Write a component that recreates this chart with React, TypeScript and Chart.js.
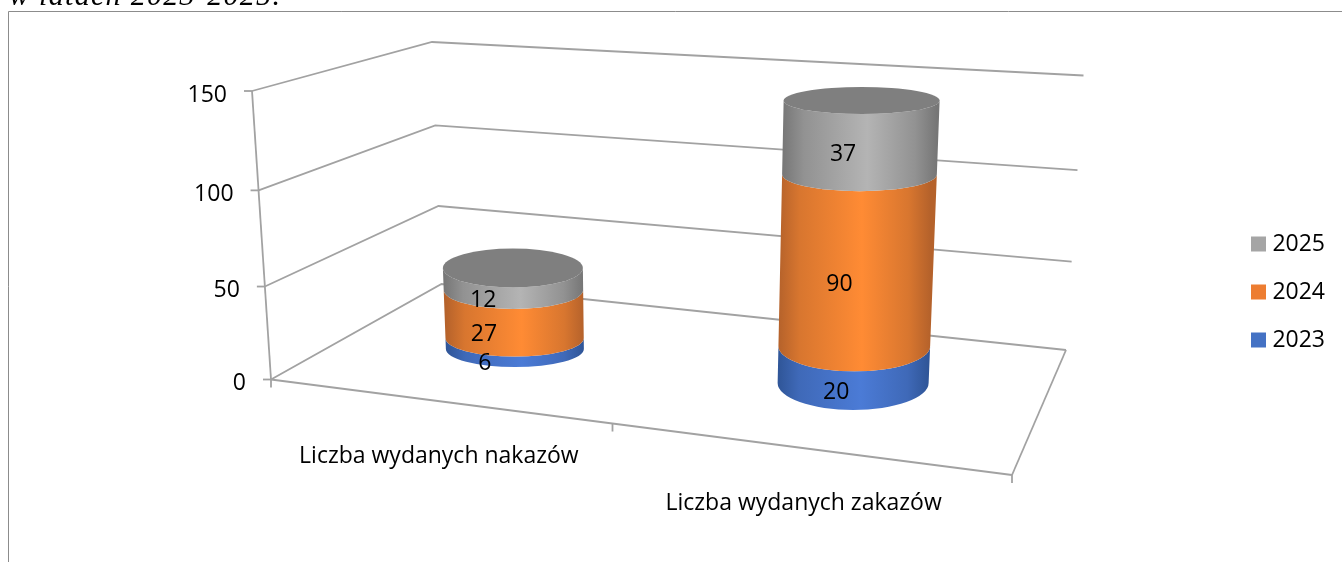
import React, { useEffect, useRef } from "react";
import { Chart, registerables } from "chart.js";

Chart.register(...registerables);

const categories = ["Liczba wydanych nakazów", "Liczba wydanych zakazów"];
const seriesNames = ["2023", "2024", "2025"];
const values2023 = [6, 20];
const values2024 = [27, 90];
const values2025 = [12, 37];
const yTicksMax = 150;
const yTicksStep = 50;
const pageTitle = "w latach 2023-2025.";

const FONT = '"Open Sans", sans-serif';
const FONT_SIZE = 23;
const lerp = (a: number, b: number, t: number) => a + (b - a) * t;
// foreshortening along the vertical axis
const warp = (t: number) => t * (0.95 + 0.05 * t);

const SHADES = [
  { legend: "#4472C4", edge: "#2F5597", mid: "#3F69B8", light: "#4B7BD6" },
  { legend: "#ED7D31", edge: "#B5622B", mid: "#D8762F", light: "#FF8B34" },
  { legend: "#A5A5A5", edge: "#767676", mid: "#929292", light: "#B4B4B4" },
];
const CAP = "#7F7F7F";
const GRID = "#A2A2A2";

// perspective of each cylinder relative to its bar element
const CYL = [
  { dxBase: 1, dxTop: -1, rxBase: 69, rxTop: 70, yOff: -30.5, k: 0.97, ryBase: 18, ryTop: 19.5, labelDx: -30, catDx: -75, catY: 456 },
  { dxBase: -3.5, dxTop: 5, rxBase: 75.5, rxTop: 78, yOff: 3.5, k: 1, ryBase: 27, ryTop: 13.5, labelDx: -17.5, catDx: -53, catY: 503 },
];

// perspective of the box walls: corners at the axis minimum and maximum
const WALL = {
  front: { x0: 271, xMax: 252 },
  backLeft: { x0: 441.5, y0: 284, xMax: 432, yMax: 42 },
  backRight: { x0: 1066, y0: 350, xMax: 1083.5, yMax: 75.5 },
  frontRight: { x: 1012, y: 475 },
};

const perspective = {
  id: "perspective",
  afterLayout(chart: any) {
    const { x, y } = chart.scales;
    y.top = 91;
    y.bottom = 379.5;
    y.height = y.bottom - y.top;
    y.configure();
    x.left = 342.5;
    x.right = 1028;
    x.width = x.right - x.left;
    x.configure();
    chart.legend.left = 1251 - chart.options.plugins.legend.labels.padding;
  },
  beforeDraw(chart: any) {
    const ctx = chart.ctx;
    ctx.save();
    ctx.fillStyle = "#fff";
    ctx.fillRect(0, 0, chart.width, chart.height);

    ctx.fillStyle = "#000";
    ctx.font = "italic 30px 'Liberation Serif', serif";
    ctx.letterSpacing = "1.3px";
    ctx.textAlign = "left";
    ctx.textBaseline = "alphabetic";
    ctx.fillText(pageTitle, 9, 5);
    ctx.letterSpacing = "0px";

    ctx.strokeStyle = "#8C8C8C";
    ctx.lineWidth = 1;
    ctx.beginPath();
    ctx.moveTo(8.5, chart.height);
    ctx.lineTo(8.5, 11.5);
    ctx.lineTo(chart.width, 11.5);
    ctx.stroke();

    const ys = chart.scales.y;
    const p0 = ys.getPixelForValue(0);
    const pMax = ys.getPixelForValue(yTicksMax);
    ctx.strokeStyle = GRID;
    ctx.lineWidth = 1.8;
    const line = (a: number, b: number, c: number, d: number) => {
      ctx.beginPath();
      ctx.moveTo(a, b);
      ctx.lineTo(c, d);
      ctx.stroke();
    };
    ctx.font = `${FONT_SIZE}px ${FONT}`;
    ctx.textAlign = "right";
    ctx.textBaseline = "middle";
    for (const tick of ys.ticks) {
      const p = ys.getPixelForValue(tick.value);
      const t = warp((p0 - p) / (p0 - pMax));
      const py = lerp(p0, pMax, t);
      const fx = lerp(WALL.front.x0, WALL.front.xMax, t);
      const blx = lerp(WALL.backLeft.x0, WALL.backLeft.xMax, t);
      const bly = lerp(WALL.backLeft.y0, WALL.backLeft.yMax, t);
      const brx = lerp(WALL.backRight.x0, WALL.backRight.xMax, t);
      const bry = lerp(WALL.backRight.y0, WALL.backRight.yMax, t);
      ctx.beginPath();
      ctx.moveTo(fx, py);
      ctx.lineTo(blx, bly);
      ctx.lineTo(brx, bry);
      ctx.stroke();
      line(fx - 8, py, fx, py);
      ctx.fillStyle = "#000";
      ctx.fillText(String(tick.label), fx - 25, py + 4);
    }
    line(WALL.front.x0, p0, WALL.front.xMax, pMax);
    const fr = WALL.frontRight;
    const backR = { x: WALL.backRight.x0, y: WALL.backRight.y0 };
    line(WALL.front.x0, p0, fr.x, fr.y);
    line(fr.x, fr.y, backR.x, backR.y);
    line(WALL.front.x0, p0, WALL.front.x0, p0 + 8);
    line(fr.x, fr.y, fr.x, fr.y + 8);
    const mid = (WALL.front.x0 + fr.x) / 2 - 29;
    const midY = lerp(p0, fr.y, (mid - WALL.front.x0) / (fr.x - WALL.front.x0));
    line(mid, midY, mid, midY + 8);

    ctx.textAlign = "center";
    chart.scales.x.ticks.forEach((tick: any, i: number) => {
      const px = chart.scales.x.getPixelForTick(i);
      ctx.fillText(String(tick.label), px + CYL[i].catDx, CYL[i].catY);
    });
    ctx.restore();
  },
  beforeDatasetsDraw(chart: any) {
    const ctx = chart.ctx;
    const ys = chart.scales.y;
    const p0 = ys.getPixelForValue(0);
    const pMax = ys.getPixelForValue(yTicksMax);
    const count = chart.data.labels.length;
    const labels: { text: string; x: number; y: number }[] = [];
    ctx.save();
    for (let c = 0; c < count; c++) {
      const g = CYL[c];
      const topEl = chart.getDatasetMeta(chart.data.datasets.length - 1).data[c];
      const pTop = topEl.y;
      const at = (pixel: number) => {
        const t = (p0 - pixel) / (p0 - pTop);
        const warped = warp((p0 - pixel) / (p0 - pMax));
        return {
          x: topEl.x + lerp(g.dxBase, g.dxTop, t),
          rx: lerp(g.rxBase, g.rxTop, t),
          ry: lerp(g.ryBase, g.ryTop, t),
          y: p0 + g.yOff - (p0 - pMax) * warped * g.k,
        };
      };
      chart.data.datasets.forEach((ds: any, d: number) => {
        const el = chart.getDatasetMeta(d).data[c];
        const lo = at(el.base);
        const hi = at(el.y);
        const shade = SHADES[d];
        const grad = ctx.createLinearGradient(lo.x - lo.rx, 0, lo.x + lo.rx, 0);
        grad.addColorStop(0, shade.edge);
        grad.addColorStop(0.14, shade.mid);
        grad.addColorStop(0.55, shade.light);
        grad.addColorStop(0.86, shade.mid);
        grad.addColorStop(1, shade.edge);
        ctx.fillStyle = grad;
        ctx.beginPath();
        ctx.ellipse(lo.x, lo.y, lo.rx, lo.ry, 0, Math.PI, 0, true);
        ctx.lineTo(hi.x + hi.rx, hi.y);
        ctx.ellipse(hi.x, hi.y, hi.rx, hi.ry, 0, 0, Math.PI, false);
        ctx.closePath();
        ctx.fill();
        const midP = at((el.base + el.y) / 2);
        labels.push({ text: String(ds.data[c]), x: midP.x + g.labelDx, y: midP.y + midP.ry + 2 });
      });
      const cap = at(pTop);
      ctx.fillStyle = CAP;
      ctx.beginPath();
      ctx.ellipse(cap.x, cap.y, cap.rx, cap.ry, 0, 0, Math.PI * 2);
      ctx.fill();
    }
    ctx.fillStyle = "#000";
    ctx.font = `${FONT_SIZE}px ${FONT}`;
    ctx.textAlign = "center";
    ctx.textBaseline = "middle";
    labels.forEach((l) => ctx.fillText(l.text, l.x, l.y));
    ctx.restore();
    return false;
  },
};

export default function App() {
  const ref = useRef<HTMLCanvasElement>(null);
  useEffect(() => {
    const values = [values2023, values2024, values2025];
    const chart = new Chart(ref.current as HTMLCanvasElement, {
      type: "bar",
      data: {
        labels: categories,
        datasets: seriesNames.map((name, i) => ({
          label: name,
          data: values[i],
          backgroundColor: SHADES[i].legend,
          borderWidth: 0,
        })),
      },
      options: {
        animation: false,
        responsive: false,
        layout: { padding: { top: 22, right: 17 } },
        scales: {
          x: { stacked: true, display: false },
          y: { stacked: true, display: false, min: 0, max: yTicksMax, ticks: { stepSize: yTicksStep } },
        },
        plugins: {
          title: { display: false },
          tooltip: { enabled: false },
          legend: {
            position: "right",
            reverse: true,
            labels: {
              boxWidth: 15,
              boxHeight: 15,
              padding: 25,
              textAlign: "right",
              color: "#000",
              font: { family: FONT, size: FONT_SIZE },
            },
          },
        },
      } as any,
      plugins: [perspective as any],
    });
    return () => chart.destroy();
  }, []);
  return (
    <canvas
      ref={ref}
      width={1342}
      height={562}
      style={{ position: "fixed", left: 0, top: 0, width: 1342, height: 562 }}
    />
  );
}
